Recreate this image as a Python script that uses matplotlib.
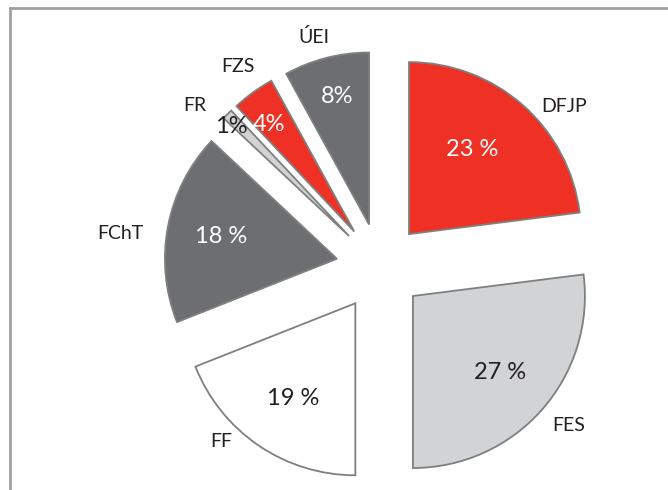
import numpy as np
import matplotlib
matplotlib.use("Agg")
import matplotlib.pyplot as plt
from matplotlib.lines import Line2D

# ---- data ----
categories = ["DFJP", "FES", "FF", "FChT", "FR", "FZS", "ÚEI"]
shares = [23, 27, 19, 18, 1, 4, 8]
pct_labels = ["23 %", "27 %", "19 %", "18 %", "1%", "4%", "8%"]

# ---- style ----
RED = "#EE3124"
DARK = "#6D6E71"
LIGHT = "#D1D3D4"
WHITE = "#FFFFFF"
colors = [RED, LIGHT, WHITE, DARK, LIGHT, RED, DARK]
pct_colors = ["white", "#231F20", "#231F20", "white", "#231F20", "white", "white"]
TXT = "#231F20"

# label placement (polar, relative to pie centre; radius in pie radii)
name_r = [1.42, 1.43, 1.37, 1.52, 1.43, 1.43, 1.39]
name_a = [41.2, -40.0, -132.3, 172.7, 138.9, 125.4, 106.0]
pct_r = [0.866, 0.927, 0.915, 0.94, 1.19, 1.05, 1.02]
pct_a = [51.8, -41.2, -123.6, 169.3, 136.6, 127.8, 104.2]

plt.rcParams['font.family'] = ['Lato', 'DejaVu Sans']

W, H = 668, 490
fig = plt.figure(figsize=(W / 100, H / 100), dpi=100)
ax = fig.add_axes([0, 0, 1, 1])

cx, cy, R = 380, 267, 172  # pixel centre and radius

wedges, _ = ax.pie(shares, colors=colors, startangle=90, counterclock=False,
                   explode=[0.255] * len(shares), radius=1.0, center=(0, 0),
                   wedgeprops=dict(edgecolor="#7F7F7F", linewidth=1.3),
                   frame=False)
ax.set_xlim(-cx / R, (W - cx) / R)
ax.set_ylim(-(H - cy) / R, cy / R)
ax.set_aspect("auto")
ax.axis("off")

for name, r, a in zip(categories, name_r, name_a):
    t = np.deg2rad(a)
    ax.text(r * np.cos(t), r * np.sin(t), name, ha="center", va="center",
            fontsize=14, color=TXT)

for lab, r, a, c in zip(pct_labels, pct_r, pct_a, pct_colors):
    t = np.deg2rad(a)
    ax.text(r * np.cos(t), r * np.sin(t), lab, ha="center", va="center",
            fontsize=17, color=c)

# outer frame (left and top edges visible)
fx0, fy0 = 9.5 / W, 1 - 8.5 / H
fig.add_artist(Line2D([fx0, fx0], [0, fy0], transform=fig.transFigure,
                      color="#A0A0A0", lw=2))
fig.add_artist(Line2D([fx0, 1], [fy0, fy0], transform=fig.transFigure,
                      color="#A0A0A0", lw=2))

fig.savefig("out.png", dpi=100, facecolor="white")
